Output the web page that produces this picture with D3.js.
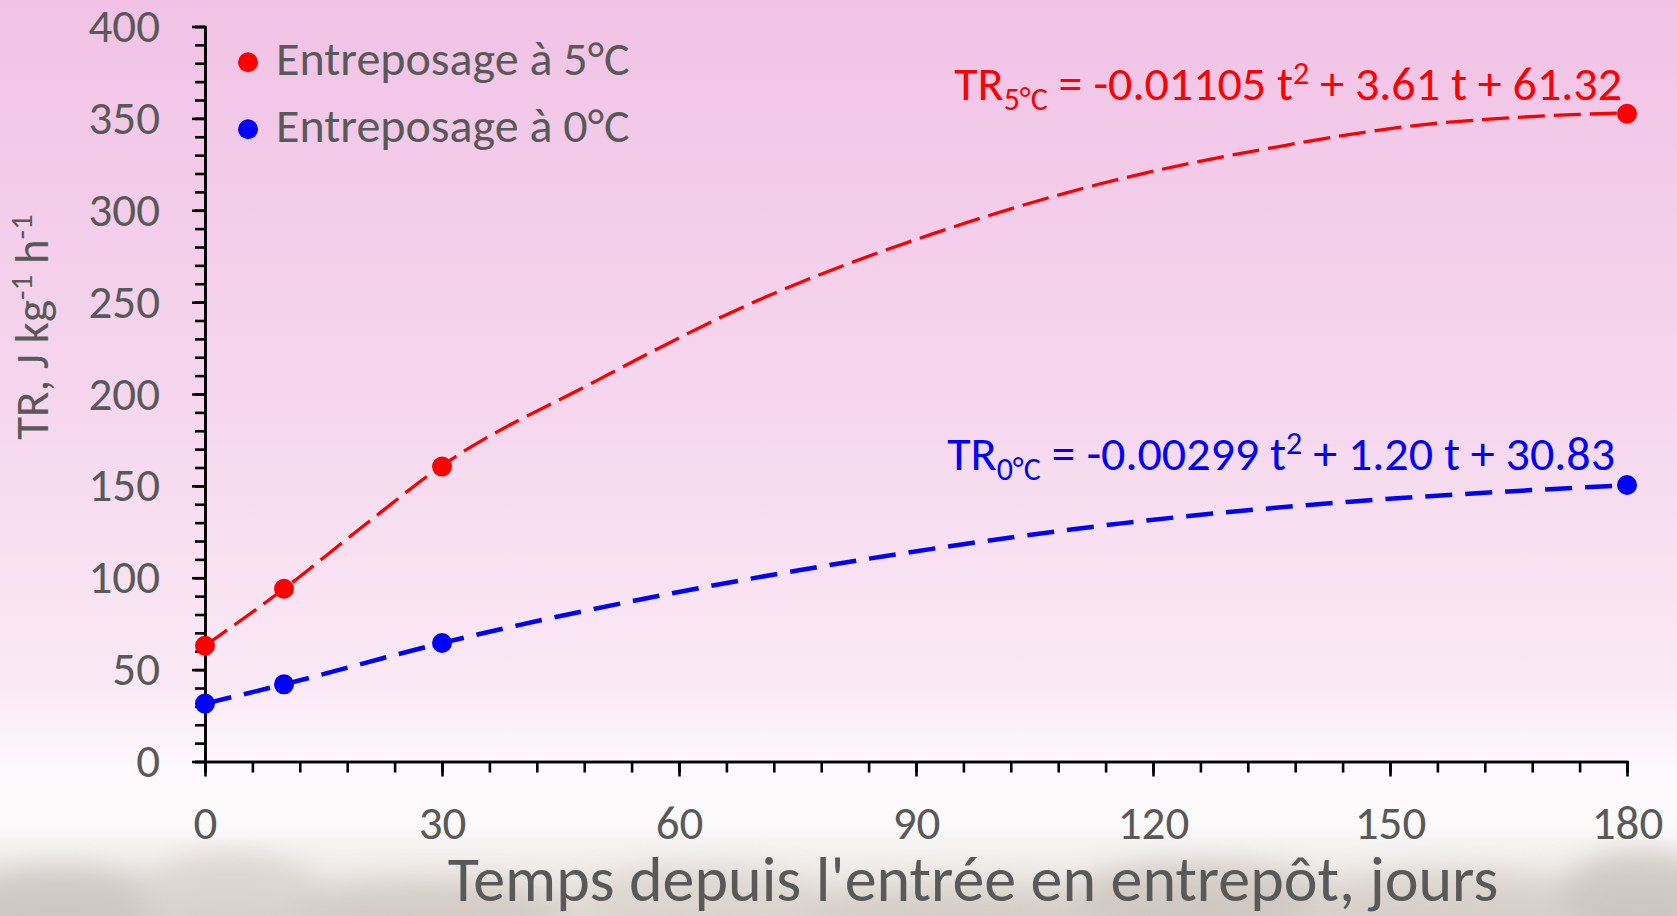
<!DOCTYPE html>
<html>
<head>
<meta charset="utf-8">
<script src="https://cdn.jsdelivr.net/npm/d3@7"></script>
<style>
  html, body { margin: 0; padding: 0; overflow: hidden; }
  text { font-family: Carlito, Calibri, Lato, sans-serif; }
</style>
</head>
<body>
<div id="chart"></div>
<script>
// measured points
const days = [0, 10, 30, 180]
const tr5 = [63, 94, 160.5, 352.5]
const tr0 = [31.5, 42, 64.5, 150.5]
// dashed trend curves at several days
const curveT5 = [0, 10, 20, 30, 49, 70, 92, 113, 137, 154, 164, 173, 180]
const curveV5 = [63, 94, 128, 161, 206, 251, 287, 314, 335.5, 346.5, 350, 352, 353]
const curveT0 = [0, 10, 30, 58, 87, 116, 145, 165, 180]
const curveV0 = [31.5, 42, 64.5, 90.6, 112.4, 129.6, 141.4, 147, 150.3]
const seriesNames = ['Entreposage à 5°C', 'Entreposage à 0°C']
const subLabels = ['5°C', '0°C']
const eqA = ['-0.01105', '-0.00299']
const eqRest = [' + 3.61 t + 61.32', ' + 1.20 t + 30.83']
const xTicks = [0, 30, 60, 90, 120, 150, 180]
const yTicks = [0, 50, 100, 150, 200, 250, 300, 350, 400]

const W = 1677, H = 916
const colors = ['#ff0000', '#0000ff']
const grey = '#595959'
const fs = 47

var svg = d3.select('#chart').append('svg')
    .attr('width', W)
    .attr('height', H)

// background: pink gradient fading to white, blurry photo strip at the bottom
var defs = svg.append('defs')
var grad = defs.append('linearGradient')
    .attr('id', 'bg').attr('x1', 0).attr('y1', 0).attr('x2', 0).attr('y2', 1)
grad.append('stop').attr('offset', '0%').attr('stop-color', '#f1c2e5')
grad.append('stop').attr('offset', '45%').attr('stop-color', '#f6d7ee')
grad.append('stop').attr('offset', '75%').attr('stop-color', '#fae9f5')
grad.append('stop').attr('offset', '84%').attr('stop-color', '#fef9fc')
grad.append('stop').attr('offset', '90%').attr('stop-color', '#fbfafa')
grad.append('stop').attr('offset', '100%').attr('stop-color', '#e2dcd7')

defs.append('filter').attr('id', 'blur')
    .append('feGaussianBlur').attr('stdDeviation', 14)

svg.append('rect').attr('width', W).attr('height', H).attr('fill', 'url(#bg)')

var photo = svg.append('g').attr('filter', 'url(#blur)').attr('opacity', 0.5)
const blobs = [
    [60, 905, 110, 40, '#b9b0ab'], [230, 895, 90, 45, '#cfc6c0'], [430, 910, 140, 30, '#c4bab2'],
    [700, 900, 120, 35, '#d3cbc4'], [950, 910, 160, 25, '#c8bfb7'], [1200, 900, 130, 40, '#bdb3ac'],
    [1450, 905, 150, 35, '#cbc2bb'], [1640, 895, 80, 45, '#b7aea8']
]
photo.selectAll('ellipse').data(blobs).enter().append('ellipse')
    .attr('cx', d => d[0]).attr('cy', d => d[1])
    .attr('rx', d => d[2]).attr('ry', d => d[3])
    .attr('fill', d => d[4])

var x = d3.scaleLinear().domain([0, 180]).range([205, 1627])
var y = d3.scaleLinear().domain([0, 400]).range([761.5, 26.5])

// minor ticks first, then major axes on top
svg.append('g')
    .attr('transform', 'translate(205,0)')
    .call(d3.axisLeft(y).tickValues(d3.range(0, 401, 10)).tickSize(10).tickFormat(''))
svg.append('g')
    .attr('transform', 'translate(0,761.5)')
    .call(d3.axisBottom(x).tickValues(d3.range(0, 181, 6)).tickSize(11).tickFormat(''))

var yAxis = svg.append('g')
    .attr('transform', 'translate(205,0)')
    .call(d3.axisLeft(y).tickValues(yTicks).tickSize(13).tickSizeOuter(0).tickPadding(32))
var xAxis = svg.append('g')
    .attr('transform', 'translate(0,761.5)')
    .call(d3.axisBottom(x).tickValues(xTicks).tickSize(15).tickSizeOuter(0))

svg.selectAll('.domain, .tick line')
    .attr('stroke', '#000')
    .attr('stroke-width', 2.6)

yAxis.selectAll('.tick text')
    .attr('fill', grey)
    .attr('font-size', fs)
    .attr('dy', '0.32em')
xAxis.selectAll('.tick text')
    .attr('fill', grey)
    .attr('font-size', fs)
    .attr('y', 77)
    .attr('dy', 0)

// axis titles
svg.append('text')
    .attr('x', 973).attr('y', 901)
    .attr('text-anchor', 'middle')
    .attr('fill', grey)
    .attr('font-size', 64)
    .text("Temps depuis l'entrée en entrepôt, jours")

var yt = svg.append('text')
    .attr('transform', 'translate(48,327) rotate(-90)')
    .attr('text-anchor', 'middle')
    .attr('fill', grey)
    .attr('font-size', fs)
yt.append('tspan').text('TR, J kg')
yt.append('tspan').attr('font-size', 31).attr('dy', -16).text('-1')
yt.append('tspan').attr('dy', 16).text(' h')
yt.append('tspan').attr('font-size', 31).attr('dy', -16).text('-1')

// trend curves
var line = d3.line()
    .curve(d3.curveMonotoneX)
    .x(d => x(d[0]))
    .y(d => y(d[1]))
const trends = [
    { t: curveT5, v: curveV5, color: colors[0], width: 3.3, dash: '27 9' },
    { t: curveT0, v: curveV0, color: colors[1], width: 4.5, dash: '27 13' }
]
svg.selectAll('.trend')
    .data(trends)
    .enter()
    .append('path')
    .attr('class', 'trend')
    .attr('fill', 'none')
    .attr('stroke', d => d.color)
    .attr('stroke-width', d => d.width)
    .attr('stroke-dasharray', d => d.dash)
    .attr('d', d => line(d.t.map((t, i) => [t, d.v[i]])))

// points
const series = [tr5, tr0]
series.forEach(function (vals, i) {
    svg.append('g')
        .selectAll('circle')
        .data(vals)
        .enter()
        .append('circle')
        .attr('cx', (d, j) => x(days[j]))
        .attr('cy', d => y(d))
        .attr('r', 10)
        .attr('fill', colors[i])
})

// legend
var legend = svg.append('g')
    .selectAll('g')
    .data(seriesNames)
    .enter()
    .append('g')
    .attr('transform', (d, i) => 'translate(248,' + (62.3 + i * 67) + ')')
legend.append('circle')
    .attr('r', 10)
    .attr('fill', (d, i) => colors[i])
legend.append('text')
    .attr('x', 28)
    .attr('y', 13)
    .attr('fill', grey)
    .attr('font-size', 48)
    .text(d => d)

// equations
const eqPos = [[1622, 100], [1615, 470]]
eqPos.forEach(function (p, i) {
    var t = svg.append('text')
        .attr('x', p[0]).attr('y', p[1])
        .attr('text-anchor', 'end')
        .attr('fill', colors[i])
        .attr('font-size', 48)
    t.append('tspan').text('TR')
    t.append('tspan').attr('font-size', 32).attr('dy', 10).text(subLabels[i])
    t.append('tspan').attr('dy', -10).text(' = ' + eqA[i] + ' t')
    t.append('tspan').attr('font-size', 32).attr('dy', -16).text('2')
    t.append('tspan').attr('dy', 16).text(eqRest[i])
})
</script>
</body>
</html>
